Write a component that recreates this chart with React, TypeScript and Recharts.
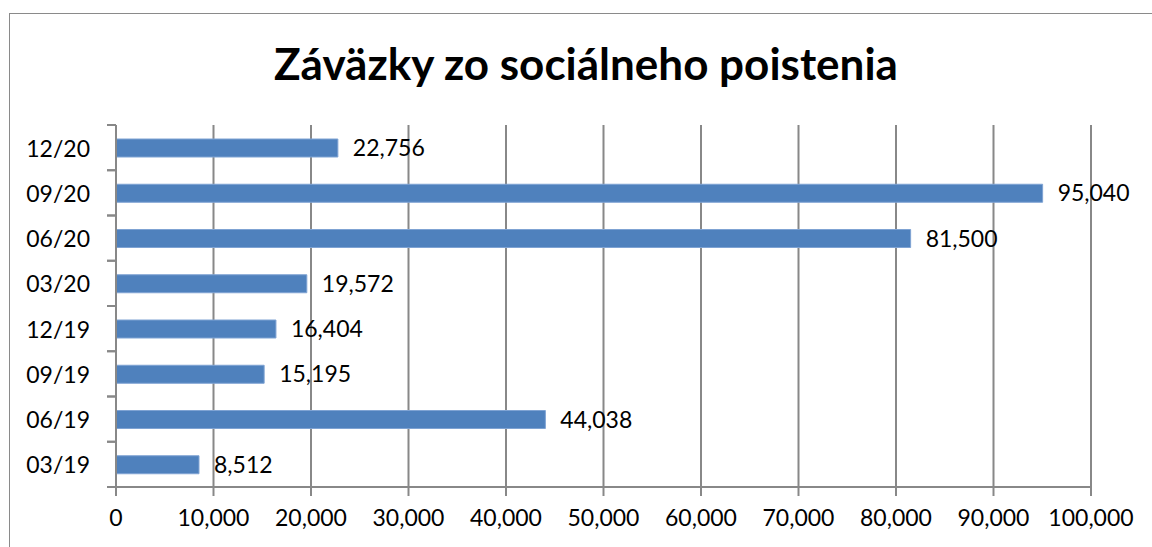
import { BarChart, Bar, XAxis, YAxis, CartesianGrid, LabelList } from 'recharts';

const quarters = ['03/19', '06/19', '09/19', '12/19', '03/20', '06/20', '09/20', '12/20'];
const amounts = [8512, 44038, 15195, 16404, 19572, 81500, 95040, 22756];
const xTicks = [0, 10000, 20000, 30000, 40000, 50000, 60000, 70000, 80000, 90000, 100000];

const chartData = quarters.map((q, i) => ({ quarter: q, value: amounts[i] }));

const FONT = 'Lato, "Open Sans", sans-serif';
const GRID = '#888888';

const fmt = (v: number) => v.toLocaleString('en-US');

// x arrives as the label anchor: axis x - tickSize(9) - tickMargin(17)
function QuarterTick(props: any) {
  const { x, y, payload } = props;
  const half = payload?.offset ?? 22.6;
  const axisX = x + 26;
  return (
    <g>
      <line x1={axisX - 9} x2={axisX} y1={y - half} y2={y - half} stroke={GRID} strokeWidth={2} />
      <line x1={axisX - 9} x2={axisX} y1={y + half} y2={y + half} stroke={GRID} strokeWidth={2} />
      <text
        x={x}
        y={y}
        textAnchor="end"
        dominantBaseline="central"
        fontFamily={FONT}
        fontSize={23}
        fill="#000"
      >
        {payload.value}
      </text>
    </g>
  );
}

export default function App() {
  return (
    <div
      style={{
        position: 'absolute',
        left: 0,
        top: 0,
        width: 1152,
        height: 547,
        overflow: 'hidden',
        background: '#fff',
      }}
    >
      <div
        style={{
          position: 'absolute',
          left: 9,
          top: 13,
          width: 1300,
          height: 700,
          border: '1px solid #8a8a8a',
        }}
      />
      <div
        style={{
          position: 'absolute',
          left: 0,
          width: 1172,
          top: 35,
          textAlign: 'center',
          fontFamily: FONT,
          fontWeight: 700,
          fontSize: 44,
          lineHeight: '56px',
          color: '#000',
        }}
      >
        Záväzky zo sociálneho poistenia
      </div>
      <div style={{ position: 'absolute', left: 0, top: 0 }}>
        <BarChart
          width={1152}
          height={547}
          data={chartData}
          layout="vertical"
          margin={{ top: 125, right: 61, bottom: 0, left: 16 }}
          barSize={18}
        >
          <CartesianGrid horizontal={false} stroke={GRID} strokeWidth={2} />
          <XAxis
            type="number"
            domain={[0, 100000]}
            ticks={xTicks}
            tickFormatter={fmt}
            height={60}
            tickSize={9}
            tickMargin={14}
            axisLine={{ stroke: GRID, strokeWidth: 2 }}
            tickLine={{ stroke: GRID, strokeWidth: 2 }}
            tick={{ fontFamily: FONT, fontSize: 23, fill: '#000' }}
            interval={0}
          />
          <YAxis
            type="category"
            dataKey="quarter"
            reversed
            width={100}
            tickSize={9}
            tickMargin={17}
            axisLine={{ stroke: GRID, strokeWidth: 2 }}
            tickLine={false}
            tick={<QuarterTick />}
            interval={0}
          />
          <Bar dataKey="value" fill="#4F81BD" stroke="#7fa3d3" strokeWidth={1} isAnimationActive={false}>
            <LabelList
              dataKey="value"
              position="right"
              offset={15}
              formatter={(v: any) => fmt(Number(v))}
              style={{ fontFamily: FONT, fontSize: 23, fill: '#000' }}
            />
          </Bar>
        </BarChart>
      </div>
    </div>
  );
}
